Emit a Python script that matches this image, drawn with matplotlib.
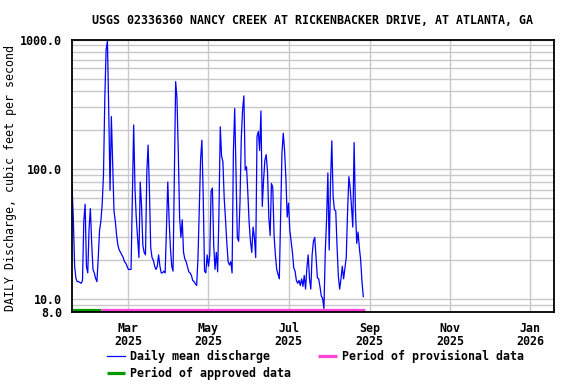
import matplotlib
matplotlib.use("Agg")
import matplotlib.pyplot as plt
import matplotlib.dates as mdates
from matplotlib.ticker import FixedLocator, LogLocator, NullFormatter
import numpy as np

# daily mean discharge, cfs, starting 2025-01-17
flow = [
    76, 42, 18, 14.5, 13.7, 13.7, 13.5, 13.3, 14, 40,
    54, 18, 16, 35, 50, 27, 17, 16, 14.5, 13.7,
    21, 34, 40, 54, 91, 352, 830, 974, 280, 69,
    255, 113, 48, 40, 31, 26, 24, 23, 22, 21,
    19.5, 19, 18, 17, 17, 17, 60, 220, 71, 42,
    30, 21, 80, 52, 26, 23, 22, 94, 154, 69,
    25, 21, 20, 18, 17, 18, 22, 18, 16, 16,
    16.5, 16, 36, 80, 41, 25, 18, 16.5, 85, 474,
    353, 137, 43, 30, 41, 23, 20.5, 19.5, 17.8, 16.3,
    16, 15.3, 14, 13.7, 13.2, 12.8, 20.5, 50, 120, 168,
    62, 16.5, 16, 22, 18, 22, 68, 72, 26, 17,
    23, 16.3, 47, 213, 126, 115, 60, 41, 27, 19.5,
    18.4, 19.5, 16, 137, 295, 94, 30, 28, 55, 174,
    287, 368, 99, 105, 66, 39, 28, 23, 36, 30,
    21, 179, 196, 140, 282, 52, 83, 118, 130, 96,
    43, 31, 78, 73, 31, 22, 17, 15.6, 14.4, 43,
    133, 190, 140, 86, 43, 55, 34, 28, 23, 17.5,
    16.5, 14, 13.3, 14, 12.8, 14.4, 12.6, 15.3, 12, 17.5,
    22, 14.4, 12, 22, 28, 30, 21, 14.7, 14.4, 12.5,
    10.6, 10.2, 8.5, 23, 41, 94, 24, 78, 166, 62,
    49, 48, 25.5, 15, 12, 14.4, 18, 14.4, 17.5, 21,
    47, 88, 72, 52, 36, 161, 49, 27, 33, 25,
    20, 13.7, 10.5,
]
start = np.datetime64("2025-01-17")
approved_end = np.datetime64("2025-02-08")
y_ticks = [8, 10, 100, 1000]
title = "USGS 02336360 NANCY CREEK AT RICKENBACKER DRIVE, AT ATLANTA, GA"

dates = start + np.arange(len(flow))
last = dates[-1] + np.timedelta64(1, "D")

plt.rcParams["font.family"] = "DejaVu Sans Mono"
plt.rcParams["font.weight"] = "bold"
plt.rcParams["font.size"] = 8.4

fig = plt.figure(figsize=(5.76, 3.84), dpi=100)
ax = fig.add_axes([0.125, 0.1875, 0.8368, 0.7096])

ax.plot(dates, flow, color="blue", lw=0.9, label="Daily mean discharge")

# data-status bars along the bottom
bar_y = 8.22
ax.plot([start, approved_end], [bar_y, bar_y], color="#009900", lw=2.3,
        solid_capstyle="butt", clip_on=False, label="Period of approved data")
ax.plot([approved_end, last], [bar_y, bar_y], color="#ff44dd", lw=2.3,
        solid_capstyle="butt", clip_on=False, label="Period of provisional data")

ax.set_yscale("log")
ax.set_ylim(8, 1000)
ax.yaxis.set_major_locator(FixedLocator(y_ticks))
ax.set_yticklabels(["%.1f" % v for v in y_ticks])
ax.yaxis.set_minor_locator(LogLocator(base=10, subs=np.arange(2, 10)))
ax.yaxis.set_minor_formatter(NullFormatter())

ax.set_xlim(start, np.datetime64("2026-01-19T08"))
ax.xaxis.set_major_locator(mdates.MonthLocator(bymonth=[1, 3, 5, 7, 9, 11]))
ax.xaxis.set_major_formatter(mdates.DateFormatter("%b\n%Y"))

ax.grid(True, which="major", color="#c8c8c8", lw=1.0)
ax.grid(True, which="minor", axis="y", color="#c8c8c8", lw=1.0)
ax.set_axisbelow(True)
ax.tick_params(which="both", length=0)
ax.tick_params(axis="x", pad=7)
ax.tick_params(axis="y", pad=7)
for s in ax.spines.values():
    s.set_linewidth(1.3)

ax.set_ylabel("DAILY Discharge, cubic feet per second", labelpad=3)
ax.yaxis.set_label_coords(-0.115, 0.49)
ax.set_title(title, pad=11, fontsize=8.4, fontweight="bold")

h, l = ax.get_legend_handles_labels()
fig.legend(h, l, loc="upper left", bbox_to_anchor=(0.185, 0.088), ncol=2,
           frameon=False, borderpad=0, borderaxespad=0, handlelength=1.6,
           handletextpad=0.45, columnspacing=2.3, labelspacing=0.3)

fig.canvas.draw()
for t in ax.get_xticklabels():
    t.set_linespacing(1.0)

fig.savefig("out.png", dpi=100)
